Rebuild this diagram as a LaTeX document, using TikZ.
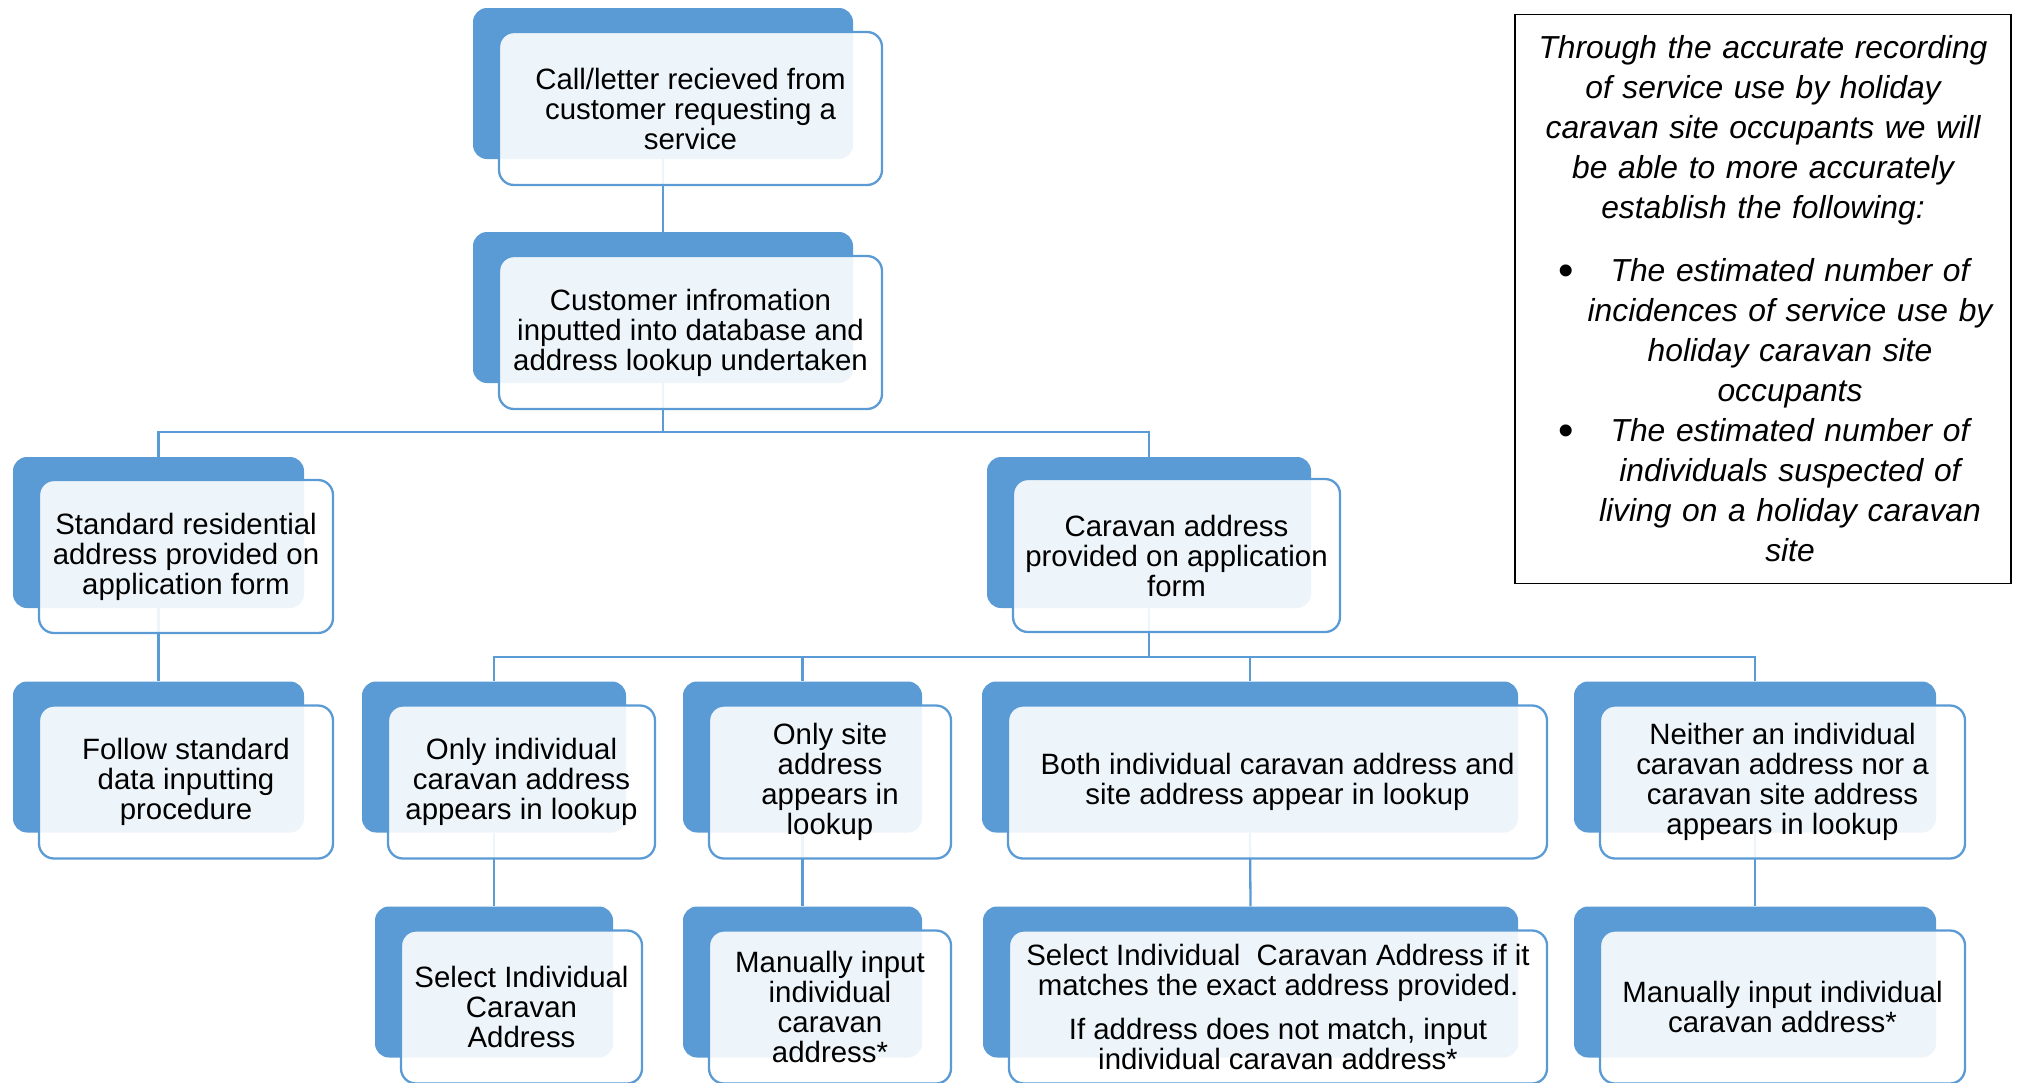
\documentclass[tikz,border=0pt]{standalone}
\usepackage{fontspec}
\setmainfont{Liberation Sans}
\usepackage{tikz}
\usetikzlibrary{calc}
\definecolor{boxblue}{HTML}{5B9BD5}

\begin{document}
\begin{tikzpicture}[x=1pt,y=-1pt,
    backbox/.style={fill=boxblue, rounded corners=14pt, minimum height=151pt, inner sep=0pt},
    textbox/.style={draw=boxblue, line width=2.3pt, fill=white, fill opacity=0.9, text opacity=1,
        rounded corners=15pt, minimum height=153pt, inner sep=0pt, align=center,
        font=\fontsize{29.4}{30}\selectfont},
    link/.style={draw=boxblue, line width=2.3pt},
    notebox/.style={draw=black, line width=1.8pt, minimum width=496pt, minimum height=569pt,
        inner xsep=12pt, inner ysep=0pt, text width=472pt,
        font=\fontsize{31.8}{40}\selectfont\itshape}]
    \useasboundingbox (0,0) rectangle (2020,1082);

    % back boxes
    \node[backbox, minimum width=380pt] (call) at (663,83.5) {};
    \node[backbox, minimum width=380pt] (info) at (663,307.5) {};
    \node[backbox, minimum width=291pt] (std) at (158.5,532.5) {};
    \node[backbox, minimum width=324pt] (carav) at (1149,532.5) {};
    \node[backbox, minimum width=291pt] (follow) at (158.5,757) {};
    \node[backbox, minimum width=264pt] (onlyind) at (494,757) {};
    \node[backbox, minimum width=239pt] (onlysite) at (802.5,757) {};
    \node[backbox, minimum width=536pt] (both) at (1250,757) {};
    \node[backbox, minimum width=362pt] (neither) at (1755,757) {};
    \node[backbox, minimum width=238pt] (selind) at (494,982) {};
    \node[backbox, minimum width=239pt] (maninp) at (802.5,982) {};
    \node[backbox, minimum width=535pt] (selmatch) at (1250.5,982) {};
    \node[backbox, minimum width=362pt] (manneith) at (1755,982) {};

    % connectors
    \draw[link] (call.south) -- (info.north);
    \coordinate (bar1) at ($(info.south)+(0,49)$);
    \draw[link] (info.south) -- (bar1) -| (std.north);
    \draw[link] (bar1) -| (carav.north);
    \draw[link] (std.south) -- (follow.north);
    \coordinate (bar2) at ($(carav.south)+(0,49)$);
    \draw[link] (carav.south) -- (bar2);
    \foreach \n in {onlyind,onlysite,both,neither}
        \draw[link] (bar2) -| (\n.north);
    \draw[link] (onlyind.south) -- (selind.north);
    \draw[link] (onlysite.south) -- (maninp.north);
    \draw[link] (both.south) -- (selmatch.north);
    \draw[link] (neither.south) -- (manneith.north);

    % front boxes with text
    \node[textbox, minimum width=383pt] (callT) at ($(call)+(27.5,25)$)
        {Call/letter recieved from\\customer requesting a\\service};
    \node[textbox, minimum width=383pt] (infoT) at ($(info)+(27.5,25)$)
        {Customer infromation\\inputted into database and\\address lookup undertaken};
    \node[textbox, minimum width=294pt] (stdT) at ($(std)+(27.5,24)$)
        {Standard residential\\address provided on\\application form};
    \node[textbox, minimum width=327pt] (caravT) at ($(carav)+(27.5,23)$)
        {Caravan address\\provided on application\\form};
    \node[textbox, minimum width=294pt] (followT) at ($(follow)+(27.5,25)$)
        {Follow standard\\data inputting\\procedure};
    \node[textbox, minimum width=267pt] (onlyindT) at ($(onlyind)+(27.5,25)$)
        {Only individual\\caravan address\\appears in lookup};
    \node[textbox, minimum width=242pt] (onlysiteT) at ($(onlysite)+(27.5,25)$)
        {Only site\\address\\appears in\\lookup};
    \node[textbox, minimum width=539pt] (bothT) at ($(both)+(27.5,25)$)
        {Both individual caravan address and\\site address appear in lookup};
    \node[textbox, minimum width=365pt] (neitherT) at ($(neither)+(27.5,25)$)
        {Neither an individual\\caravan address nor a\\caravan site address\\appears in lookup};
    \node[textbox, minimum width=241pt] (selindT) at ($(selind)+(27.5,25)$)
        {Select Individual\\Caravan\\Address};
    \node[textbox, minimum width=242pt] (maninpT) at ($(maninp)+(27.5,25)$)
        {Manually input\\individual\\caravan\\address*};
    \node[textbox, minimum width=538pt] (selmatchT) at ($(selmatch)+(27.5,25)$)
        {Select Individual\ \ Caravan Address if it\\matches the exact address provided.\\[14pt]If address does not match, input\\individual caravan address*};
    \node[textbox, minimum width=365pt] (manneithT) at ($(manneith)+(27.5,25)$)
        {Manually input individual\\caravan address*};

    % note on the right
    \node[notebox] (note) at (1763,299) {%
        {\centering Through the accurate recording\\of service use by holiday\\caravan site occupants we will\\be able to more accurately\\establish the following:\par}
        \vspace{23pt}
        \begin{list}{\upshape\fontsize{44}{40}\selectfont\raisebox{-4pt}{\textbullet}}{\setlength{\leftmargin}{54pt}\setlength{\labelwidth}{30pt}%
            \setlength{\labelsep}{37pt}\setlength{\topsep}{0pt}\setlength{\partopsep}{0pt}%
            \setlength{\itemsep}{0pt}\setlength{\parsep}{0pt}}
        \item {\centering The estimated number of\\incidences of service use by\\holiday caravan site\\occupants\par}
        \item {\centering The estimated number of\\individuals suspected of\\living on a holiday caravan\\site\par}
        \end{list}};

\end{tikzpicture}
\end{document}
